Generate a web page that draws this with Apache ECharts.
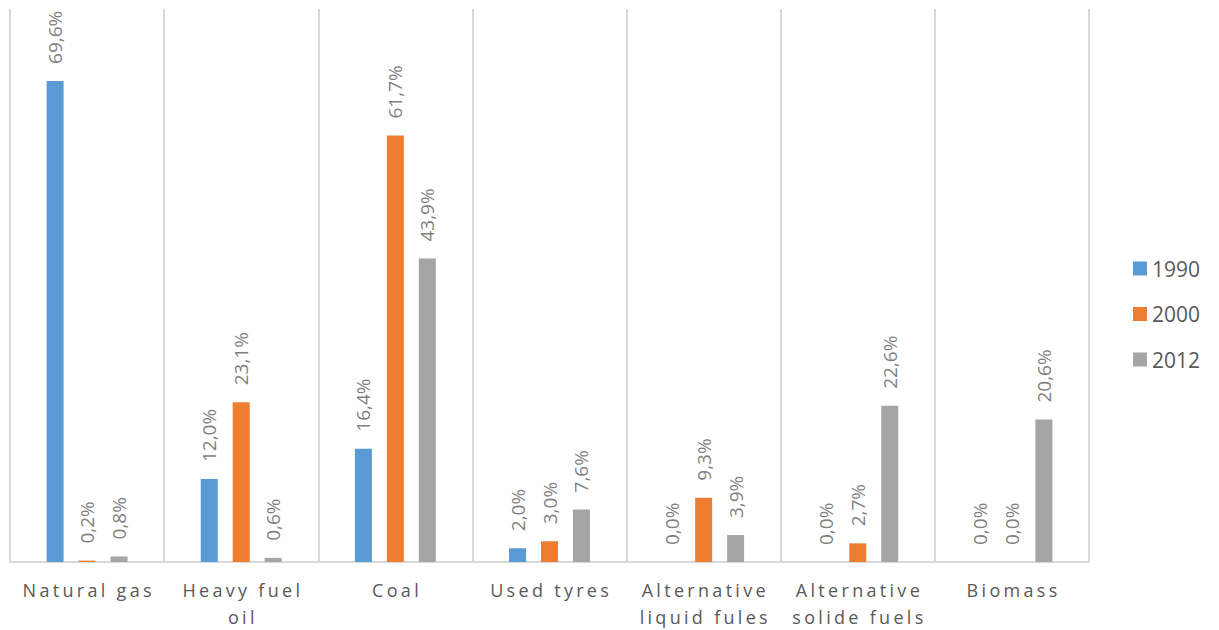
<!DOCTYPE html>
<html>
<head>
<meta charset="utf-8">
<script src="https://cdn.jsdelivr.net/npm/echarts@6/dist/echarts.min.js"></script>
<style>
  html, body { margin: 0; padding: 0; background: #fff; }
  #chart { width: 1219px; height: 630px; }
</style>
</head>
<body>
<div id="chart"></div>
<script>
// Fuel categories (line breaks as wrapped under the axis)
const categories = [
  'Natural gas',
  'Heavy fuel\noil',
  'Coal',
  'Used tyres',
  'Alternative\nliquid fules',
  'Alternative\nsolide fuels',
  'Biomass'
];

// Share of each fuel (%) per year
const values1990 = [69.6, 12.0, 16.4, 2.0, 0.0, 0.0, 0.0];
const values2000 = [0.2, 23.1, 61.7, 3.0, 9.3, 2.7, 0.0];
const values2012 = [0.8, 0.6, 43.9, 7.6, 3.9, 22.6, 20.6];

const seriesNames = ['1990', '2000', '2012'];
const seriesColors = ['#5b9bd5', '#ed7d31', '#a5a5a5'];
const seriesValues = [values1990, values2000, values2012];

const fontFamily = '"Open Sans", "Liberation Sans", sans-serif';
const categoryLetterSpacing = 3.3;

const chart = echarts.init(document.getElementById('chart'), null, { renderer: 'svg' });

chart.setOption({
  animation: false,
  textStyle: { fontFamily: fontFamily },
  grid: { left: 10, right: 130, top: 9, bottom: 67, containLabel: false },
  legend: {
    orient: 'vertical',
    right: 14,
    top: 253,
    itemWidth: 14,
    itemHeight: 14,
    itemGap: 24.5,
    icon: 'rect',
    textStyle: { color: '#595959', fontSize: 21, lineHeight: 20, fontFamily: fontFamily },
    data: seriesNames
  },
  xAxis: {
    type: 'category',
    data: categories,
    axisLine: { show: true, lineStyle: { color: '#d9d9d9', width: 2 } },
    axisTick: { show: false },
    splitLine: { show: true, lineStyle: { color: '#d9d9d9', width: 2 } },
    axisLabel: {
      color: '#595959',
      fontSize: 18,
      lineHeight: 27,
      margin: 14,
      interval: 0,
      fontFamily: fontFamily
    }
  },
  yAxis: {
    type: 'value',
    min: 0,
    max: 80,
    show: false,
    splitLine: { show: false }
  },
  series: seriesNames.map((name, i) => ({
    name: name,
    type: 'bar',
    data: seriesValues[i],
    barWidth: 17,
    barGap: '88%',
    itemStyle: { color: seriesColors[i] },
    label: {
      show: true,
      position: 'top',
      rotate: 90,
      align: 'left',
      verticalAlign: 'middle',
      distance: 17,
      color: '#7f7f7f',
      fontSize: 19,
      fontFamily: fontFamily,
      formatter: p => p.value.toFixed(1).replace('.', ',') + '%'
    }
  }))
});

// Spread out the letters of the category names under the axis
const categoryLines = new Set();
categories.forEach(c => c.split('\n').forEach(l => categoryLines.add(l)));

function spaceCategoryLabels() {
  const texts = document.querySelectorAll('#chart svg text');
  texts.forEach(t => {
    if (categoryLines.has(t.textContent.trim())) {
      t.setAttribute('letter-spacing', categoryLetterSpacing);
      t.setAttribute('dx', categoryLetterSpacing / 2);
    }
  });
}
chart.on('finished', spaceCategoryLabels);
setTimeout(spaceCategoryLabels, 0);
setTimeout(spaceCategoryLabels, 100);
</script>
</body>
</html>
